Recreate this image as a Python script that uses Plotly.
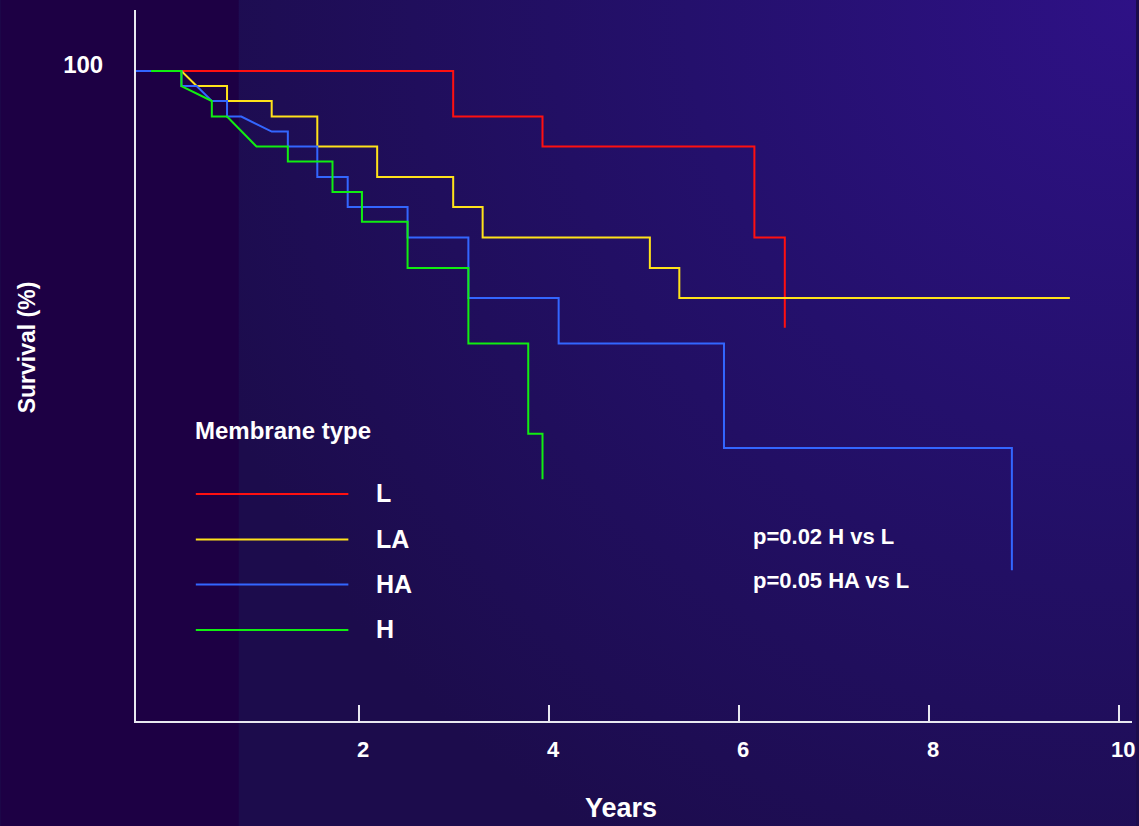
import base64
import plotly.graph_objects as go

# ---------------- data ----------------
series_names = ["L", "LA", "HA", "H"]
series_colors = ["#ff1010", "#ffe21a", "#3366ff", "#11ee11"]

# curve vertices: time (years) and survival (%)
L_years = [-0.35, 2.99, 2.99, 3.93, 3.93, 6.16, 6.16, 6.48, 6.48]
L_surv = [100.0, 100.0, 93.0, 93.0, 88.4, 88.4, 74.4, 74.4, 60.5]

LA_years = [-0.35, 0.13, 0.29, 0.61, 0.61, 1.08, 1.08, 1.56, 1.56, 2.19, 2.19,
            2.99, 2.99, 3.30, 3.30, 5.06, 5.06, 5.37, 5.37, 9.48]
LA_surv = [100.0, 100.0, 97.7, 97.7, 95.4, 95.4, 93.0, 93.0, 88.4, 88.4, 83.7,
           83.7, 79.1, 79.1, 74.4, 74.4, 69.7, 69.7, 65.1, 65.1]

HA_years = [-0.35, 0.13, 0.13, 0.29, 0.45, 0.61, 0.61, 0.76, 1.08, 1.25, 1.25,
            1.56, 1.56, 1.88, 1.88, 2.51, 2.51, 3.15, 3.15, 4.10, 4.10, 5.84,
            5.84, 8.87, 8.87]
HA_surv = [100.0, 100.0, 97.7, 97.7, 95.4, 95.4, 93.0, 93.0, 90.7, 90.7, 88.4,
           88.4, 83.7, 83.7, 79.1, 79.1, 74.4, 74.4, 65.1, 65.1, 58.1, 58.1,
           42.0, 42.0, 23.2]

H_years = [-0.19, 0.13, 0.13, 0.45, 0.45, 0.61, 0.92, 1.25, 1.25, 1.72, 1.72,
           2.03, 2.03, 2.51, 2.51, 3.15, 3.15, 3.78, 3.78, 3.93, 3.93]
H_surv = [100.0, 100.0, 97.7, 95.4, 93.0, 93.0, 88.4, 88.4, 86.1, 86.1, 81.4,
          81.4, 76.8, 76.8, 69.7, 69.7, 58.1, 58.1, 44.2, 44.2, 37.2]

x_tick_vals = [2, 4, 6, 8, 10]
x_tick_text = ["2", "4", "6", "8", "10"]
y_tick_vals = [100]
y_tick_text = ["100"]

x_range = [-0.348, 10.134]
y_range = [0, 109.4]

p_texts = ["p=0.02 H vs L", "p=0.05 HA vs L"]
legend_title = "Membrane type"
x_title = "Years"
y_title = "Survival (%)"

# ---------------- figure ----------------
W, H = 1139, 826
ML, MR, MT, MB = 136, 4, 10, 105
PW, PH = W - ML - MR, H - MT - MB


def px(xpix):
    return (xpix - ML) / PW


def py(ypix):
    return (H - MB - ypix) / PH


FONT = "Liberation Sans, Arial, Helvetica, sans-serif"

svg = f'''<svg xmlns="http://www.w3.org/2000/svg" width="{W}" height="{H}" viewBox="0 0 {W} {H}" preserveAspectRatio="none">
<defs><radialGradient id="g" gradientUnits="userSpaceOnUse" cx="{W}" cy="0" r="1000">
<stop offset="0" stop-color="#2e1186"/><stop offset="0.45" stop-color="#24106c"/><stop offset="1" stop-color="#1c0c4c"/>
</radialGradient></defs>
<rect width="{W}" height="{H}" fill="url(#g)"/>
<rect width="239" height="{H}" fill="#1d0044"/></svg>'''
bg_src = "data:image/svg+xml;base64," + base64.b64encode(svg.encode()).decode()

fig = go.Figure()

curves = [(L_years, L_surv), (LA_years, LA_surv), (HA_years, HA_surv), (H_years, H_surv)]
for (xs, ys), name, col in zip(curves, series_names, series_colors):
    fig.add_trace(go.Scatter(x=xs, y=ys, mode="lines", name=name,
                             line=dict(color=col, width=2), showlegend=False))

shapes = []
annotations = []
leg_y = [494, 539.5, 584.5, 630]
for name, col, yy in zip(series_names, series_colors, leg_y):
    shapes.append(dict(type="line", xref="paper", yref="paper",
                       x0=px(196), x1=px(349), y0=py(yy), y1=py(yy),
                       line=dict(color=col, width=2)))
    annotations.append(dict(text=name, xref="paper", yref="paper", x=px(375), y=py(yy - 1),
                            xanchor="left", yanchor="middle", showarrow=False,
                            font=dict(family=FONT, size=25, color="white", weight="bold")))

annotations.append(dict(text=legend_title, xref="paper", yref="paper", x=px(193), y=py(430),
                        xanchor="left", yanchor="middle", showarrow=False,
                        font=dict(family=FONT, size=24, color="white", weight="bold")))
for t, yy in zip(p_texts, [536, 580]):
    annotations.append(dict(text=t, xref="paper", yref="paper", x=px(753), y=py(yy),
                            xanchor="left", yanchor="middle", showarrow=False,
                            font=dict(family=FONT, size=22, color="white", weight="bold")))
annotations.append(dict(text=x_title, xref="paper", yref="paper", x=px(622), y=py(808),
                        xanchor="center", yanchor="middle", showarrow=False,
                        font=dict(family=FONT, size=27, color="white", weight="bold")))
annotations.append(dict(text=y_title, xref="paper", yref="paper", x=px(27), y=py(347),
                        xanchor="center", yanchor="middle", showarrow=False, textangle=-90,
                        font=dict(family=FONT, size=23, color="white", weight="bold")))

fig.update_layout(
    width=W, height=H, autosize=False,
    margin=dict(l=ML, r=MR, t=MT, b=MB, pad=0),
    paper_bgcolor="#1c0c4c",
    plot_bgcolor="rgba(0,0,0,0)",
    images=[dict(source=bg_src, xref="paper", yref="paper",
                 x=-ML / PW, y=1 + MT / PH, sizex=W / PW, sizey=H / PH,
                 xanchor="left", yanchor="top", sizing="stretch", layer="below")],
    shapes=shapes,
    annotations=annotations,
    xaxis=dict(range=x_range, showgrid=False, zeroline=False,
               showline=True, linecolor="#e8e8f0", linewidth=2,
               tickmode="array", tickvals=x_tick_vals, ticktext=x_tick_text,
               ticks="inside", ticklen=16, tickwidth=2, tickcolor="#e8e8f0",
               ticklabelstandoff=8, ticklabelshift=4, ticklabeloverflow="allow",
               tickfont=dict(family=FONT, size=22, color="white", weight="bold")),
    yaxis=dict(range=y_range, showgrid=False, zeroline=False,
               showline=True, linecolor="#e8e8f0", linewidth=2,
               tickmode="array", tickvals=y_tick_vals, ticktext=y_tick_text,
               ticks="", ticklabelstandoff=26, ticklabelshift=-6,
               tickfont=dict(family=FONT, size=24, color="white", weight="bold")),
    showlegend=False,
)

fig.write_html(
    "out.html",
    config={"displayModeBar": False},
    post_script="document.body.style.margin='0';document.body.style.padding='0';"
                "document.body.style.overflow='hidden';",
)
